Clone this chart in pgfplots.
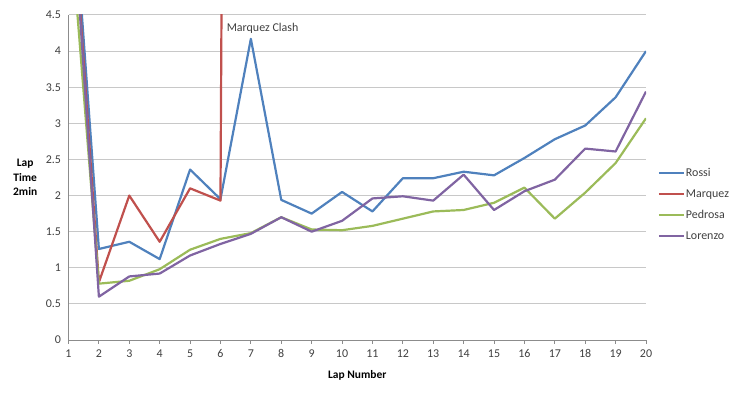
\documentclass[border=0pt]{standalone}
\usepackage{pgfplots}
\pgfplotsset{compat=1.18}
\usepackage{fontspec}
\setmainfont{Carlito}
\definecolor{cRossi}{HTML}{4F81BD}
\definecolor{cMarquez}{HTML}{C0504D}
\definecolor{cPedrosa}{HTML}{9BBB59}
\definecolor{cLorenzo}{HTML}{8064A2}
\definecolor{gridc}{HTML}{C8C8C8}
\definecolor{axc}{HTML}{8C8C8C}
\definecolor{txtc}{HTML}{404040}
\begin{document}
\begin{tikzpicture}
\path[use as bounding box] (0,0) rectangle (745bp,393bp);
\begin{axis}[
  at={(68.5bp,53bp)}, anchor=south west,
  scale only axis, width=577.5bp, height=325bp,
  xmin=1, xmax=20, ymin=0, ymax=4.5,
  xtick={1,...,20}, ytick={0,0.5,...,4.5},
  /pgf/number format/assume math mode=true,
  yticklabel style={/pgf/number format/fixed, /pgf/number format/precision=1},
  ymajorgrids, grid style={gridc, line width=1bp},
  axis x line*=bottom, axis y line*=left,
  axis line style={axc, line width=0.8bp, -},
  x tick style={axc, line width=0.8bp}, xtick align=outside, major tick length=4bp,
  y tick style={draw=none},
  tick label style={font=\fontsize{12}{14}\selectfont, text=txtc},
  xticklabel style={yshift=-2bp},
  yticklabel style={xshift=-4bp},
  xlabel={\textbf{Lap Number}},
  xlabel style={font=\fontsize{11.5}{14}\selectfont, at={(axis description cs:0.5,0)}, anchor=center, yshift=-35bp},
  ylabel={\textbf{Lap}\\\textbf{Time}\\\textbf{2min}},
  ylabel style={font=\fontsize{11.5}{14.5}\selectfont, rotate=-90, align=center, at={(axis description cs:-0.075,0.5)}, anchor=center},
  legend style={at={(axis description cs:1.02,0.529)}, anchor=north west, draw=none, fill=none,
    font=\fontsize{12}{14}\selectfont, text=txtc, row sep=11.5bp, inner sep=0pt,
    nodes={inner xsep=1bp, inner ysep=0bp}},
  legend cell align=left,
  legend image code/.code={\draw[#1, line width=2.2bp] (0bp,0bp) -- (25bp,0bp);},
  every axis plot/.append style={line width=2.2bp, line join=round},
]
\addplot[cRossi] coordinates {(1,7.05) (2,1.26) (3,1.36) (4,1.12) (5,2.36) (6,1.95) (7,4.17) (8,1.94) (9,1.75) (10,2.05) (11,1.78) (12,2.24) (13,2.24) (14,2.33) (15,2.28) (16,2.52) (17,2.78) (18,2.97) (19,3.36) (20,4.0)};
\addlegendentry{Rossi}
\addplot[cMarquez] coordinates {(1,6.9) (2,0.8) (3,2.0) (4,1.36) (5,2.1) (6,1.93) (7,80)};
\addlegendentry{Marquez}
\addplot[cPedrosa] coordinates {(1,6.06) (2,0.78) (3,0.82) (4,0.98) (5,1.25) (6,1.4) (7,1.48) (8,1.7) (9,1.53) (10,1.52) (11,1.58) (12,1.68) (13,1.78) (14,1.8) (15,1.9) (16,2.11) (17,1.68) (18,2.04) (19,2.45) (20,3.07)};
\addlegendentry{Pedrosa}
\addplot[cLorenzo] coordinates {(1,6.87) (2,0.6) (3,0.88) (4,0.92) (5,1.17) (6,1.33) (7,1.47) (8,1.7) (9,1.5) (10,1.65) (11,1.96) (12,1.99) (13,1.93) (14,2.29) (15,1.8) (16,2.06) (17,2.22) (18,2.65) (19,2.61) (20,3.44)};
\addlegendentry{Lorenzo}
\node[anchor=west, font=\fontsize{12}{14}\selectfont, text=txtc, inner sep=0pt] at (axis cs:6.2,4.32) {Marquez Clash};
\end{axis}
\end{tikzpicture}
\end{document}
